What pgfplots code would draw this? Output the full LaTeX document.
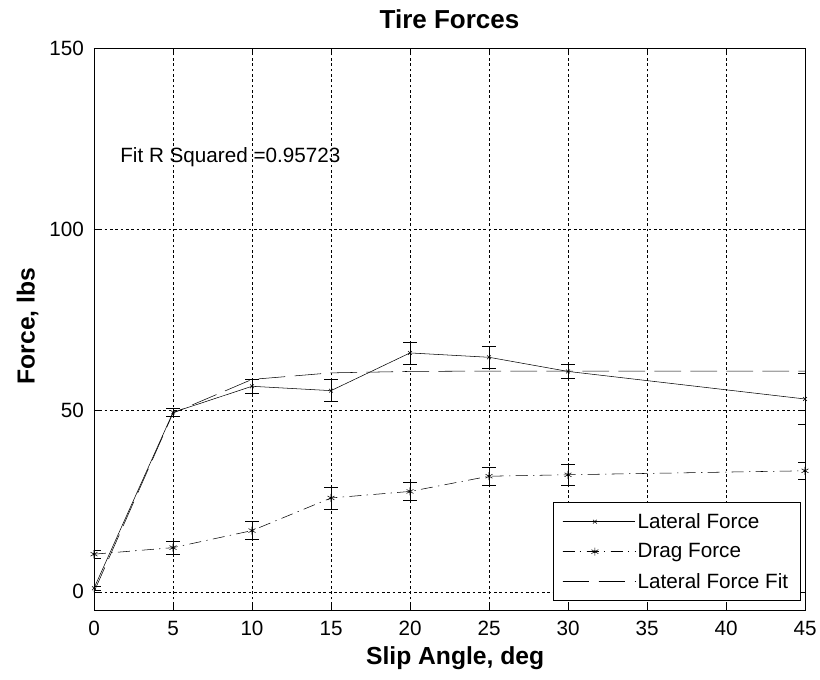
\documentclass[border=0pt]{standalone}
\usepackage{pgfplots}
\pgfplotsset{compat=1.18}
\usepackage{fontspec}
\setmainfont{Liberation Sans}
\pgfdeclareplotmark{astdot}{%
  \pgfuseplotmark{asterisk}%
  \pgfpathcircle{\pgfpoint{0pt}{0pt}}{1pt}\pgfusepathqfill}
\begin{document}
\begin{tikzpicture}
\path[use as bounding box] (-70.5pt,-51.75pt) rectangle (544.5pt,457.5pt);
\begin{axis}[
  at={(0,0)}, anchor=south west,
  scale only axis, width=533.25pt, height=421.5pt,
  xmin=0, xmax=45, ymin=-5, ymax=150,
  xtick={0,5,...,45}, ytick={0,50,100,150},
  /pgf/number format/assume math mode=true,
  tick label style={font=\fontsize{15.5}{17}\selectfont},
  xticklabel style={anchor=north, yshift=-5pt},
  yticklabel style={anchor=east, xshift=-4pt},
  major tick length=5pt,
  tick style={black, thin},
  grid=major,
  major grid style={black, thin, dash pattern=on 2pt off 2pt},
  axis line style={black, thin},
  title={\bfseries Tire Forces},
  every axis title/.style={at={(axis description cs:0.5,1)}, anchor=base, yshift=15pt,
    font=\fontsize{19.5}{22}\selectfont},
  xlabel={\bfseries Slip Angle, deg},
  ylabel={\bfseries Force, lbs},
  every axis x label/.style={at={(axis description cs:0.508,0)}, anchor=base, yshift=-41pt,
    font=\fontsize{18.5}{21}\selectfont},
  every axis y label/.style={at={(axis description cs:-0.0836,0.505)}, anchor=base, rotate=90,
    font=\fontsize{18.5}{21}\selectfont},
  legend style={at={(rel axis cs:0.9935,0.016)}, anchor=south east,
    font=\fontsize{15.5}{17}\selectfont, draw=black, thin,
    row sep=6pt, inner xsep=7pt, inner ysep=6pt, cells={anchor=west}},
  legend cell align=left,
  legend image code/.code={
    \path (0cm,0cm) -- (1.9cm,0cm);
    \draw[mark repeat=2,mark phase=2,#1] plot coordinates {(0cm,0cm) (0.85cm,0cm) (1.7cm,0cm)};
  },
  error bars/error mark options={rotate=90, mark size=5pt, black, thin},
]
% Lateral Force
\addplot[black, thin, mark=x, mark size=2pt,
  error bars/.cd, y dir=both, y explicit]
  table[x=x, y=y, y error=e] {
x y e
0 1.0 0.5
5 49.5 1.2
10 56.7 2.0
15 55.5 3.0
20 65.9 3.0
25 64.7 3.0
30 60.8 2.0
45 53.2 7.0
};
\addlegendentry{Lateral Force}
% Drag Force
\addplot[black, thin, dash pattern=on 9pt off 4pt on 1pt off 4pt,
  mark=astdot, mark size=3pt, mark options={solid},
  error bars/.cd, y dir=both, y explicit]
  table[x=x, y=y, y error=e] {
x y e
0 10.4 1.2
5 12.2 1.8
10 16.9 2.5
15 25.9 3.0
20 27.7 2.5
25 31.9 2.5
30 32.3 3.0
45 33.4 2.3
};
\addlegendentry{Drag Force}
% Fit
\addplot[black, thin, dash pattern=on 20pt off 7pt, mark=none] coordinates {
(0,0) (5,49.3) (10,58.6) (15,60.4) (20,60.8) (25,60.9) (30,60.9) (45,60.9)};
\addlegendentry{Lateral Force Fit}
\node[anchor=base west, font=\fontsize{15.5}{17}\selectfont, inner sep=0pt] at (axis cs:1.65,118.5) {Fit R Squared =0.95723};
\end{axis}
\end{tikzpicture}
\end{document}
